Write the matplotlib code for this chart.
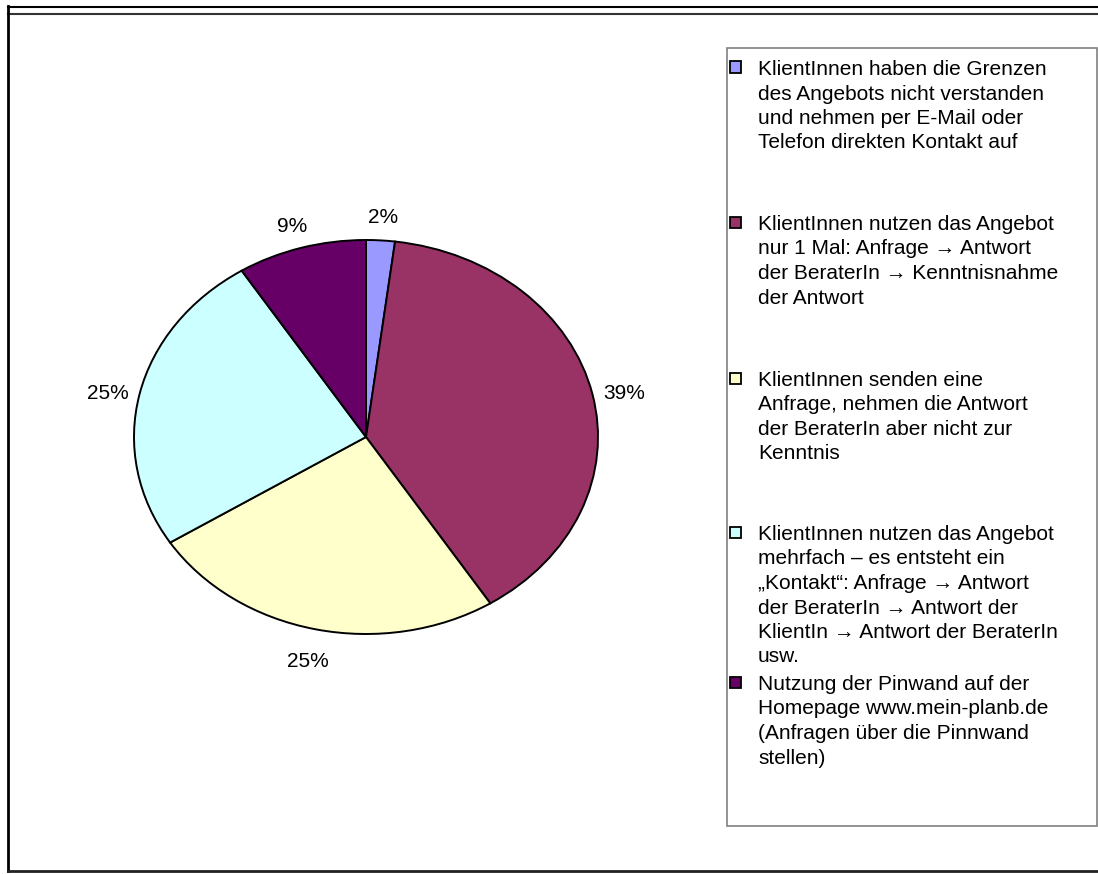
import matplotlib
matplotlib.use('Agg')
import matplotlib.pyplot as plt
from matplotlib.patches import Rectangle
from matplotlib.lines import Line2D
from matplotlib.transforms import ScaledTranslation

plt.rcParams['font.family'] = ['Liberation Sans', 'DejaVu Sans']

# Nutzungsarten der Online-Beratung (Anteile in %)
categories = [
    "KlientInnen haben die Grenzen\ndes Angebots nicht verstanden\nund nehmen per E-Mail oder\nTelefon direkten Kontakt auf",
    "KlientInnen nutzen das Angebot\nnur 1 Mal: Anfrage \u2192 Antwort\nder BeraterIn \u2192 Kenntnisnahme\nder Antwort",
    "KlientInnen senden eine\nAnfrage, nehmen die Antwort\nder BeraterIn aber nicht zur\nKenntnis",
    "KlientInnen nutzen das Angebot\nmehrfach \u2013 es entsteht ein\n\u201eKontakt\u201c: Anfrage \u2192 Antwort\nder BeraterIn \u2192 Antwort der\nKlientIn \u2192 Antwort der BeraterIn\nusw.",
    "Nutzung der Pinwand auf der\nHomepage www.mein-planb.de\n(Anfragen \u00fcber die Pinnwand\nstellen)",
]
shares = [2, 39, 25, 25, 9]
colors = ['#9999FF', '#993366', '#FFFFCC', '#CCFFFF', '#660066']

W, H = 1098, 874
fig = plt.figure(figsize=(W / 100, H / 100), dpi=100)
fig.patch.set_facecolor('white')


def fx(x):
    return x / W


def fy(y):
    return 1 - y / H


# outer frame
fig.add_artist(Line2D([fx(8), 1], [fy(6.5), fy(6.5)], color='black', lw=1.5))
fig.add_artist(Line2D([fx(8), 1], [fy(14), fy(14)], color='#333333', lw=1.5))
fig.add_artist(Line2D([fx(8), fx(8)], [fy(6), fy(871)], color='black', lw=2))
fig.add_artist(Line2D([fx(8), 1], [fy(870.5), fy(870.5)], color='#222222', lw=2))

# pie (elliptical)
cx, cy, rx, ry = 366, 437, 232, 197
ax = fig.add_axes([fx(cx - rx), fy(cy + ry), 2 * rx / W, 2 * ry / H])
wedges, texts, autotexts = ax.pie(
    shares, colors=colors, startangle=90, counterclock=False,
    wedgeprops=dict(edgecolor='black', linewidth=1.4),
    autopct=lambda p: f'{p:.0f}%', pctdistance=1.14,
    textprops=dict(fontsize=15, color='black'))
shift = ScaledTranslation(0, -5 / 100, fig.dpi_scale_trans)
for t in autotexts:
    t.set_transform(ax.transData + shift)
ax.set_aspect('auto')
ax.set_xlim(-1, 1)
ax.set_ylim(-1, 1)

# legend box
fig.add_artist(Rectangle((fx(727), fy(826)), (1097 - 727) / W, (826 - 48) / H,
                         facecolor='white', edgecolor='#808080', lw=1.2))
first_baselines = [75, 230, 386, 540, 690]
line_step = 24.5
for label, color, yb in zip(categories, colors, first_baselines):
    fig.add_artist(Rectangle((fx(730), fy(yb - 2.5)), 11 / W, 11 / H,
                             facecolor=color, edgecolor='black', lw=1.3))
    for i, line in enumerate(label.split('\n')):
        fig.text(fx(758), fy(yb + i * line_step), line, fontsize=15,
                 ha='left', va='baseline', color='black')

fig.savefig('out.png', dpi=100, facecolor='white')
